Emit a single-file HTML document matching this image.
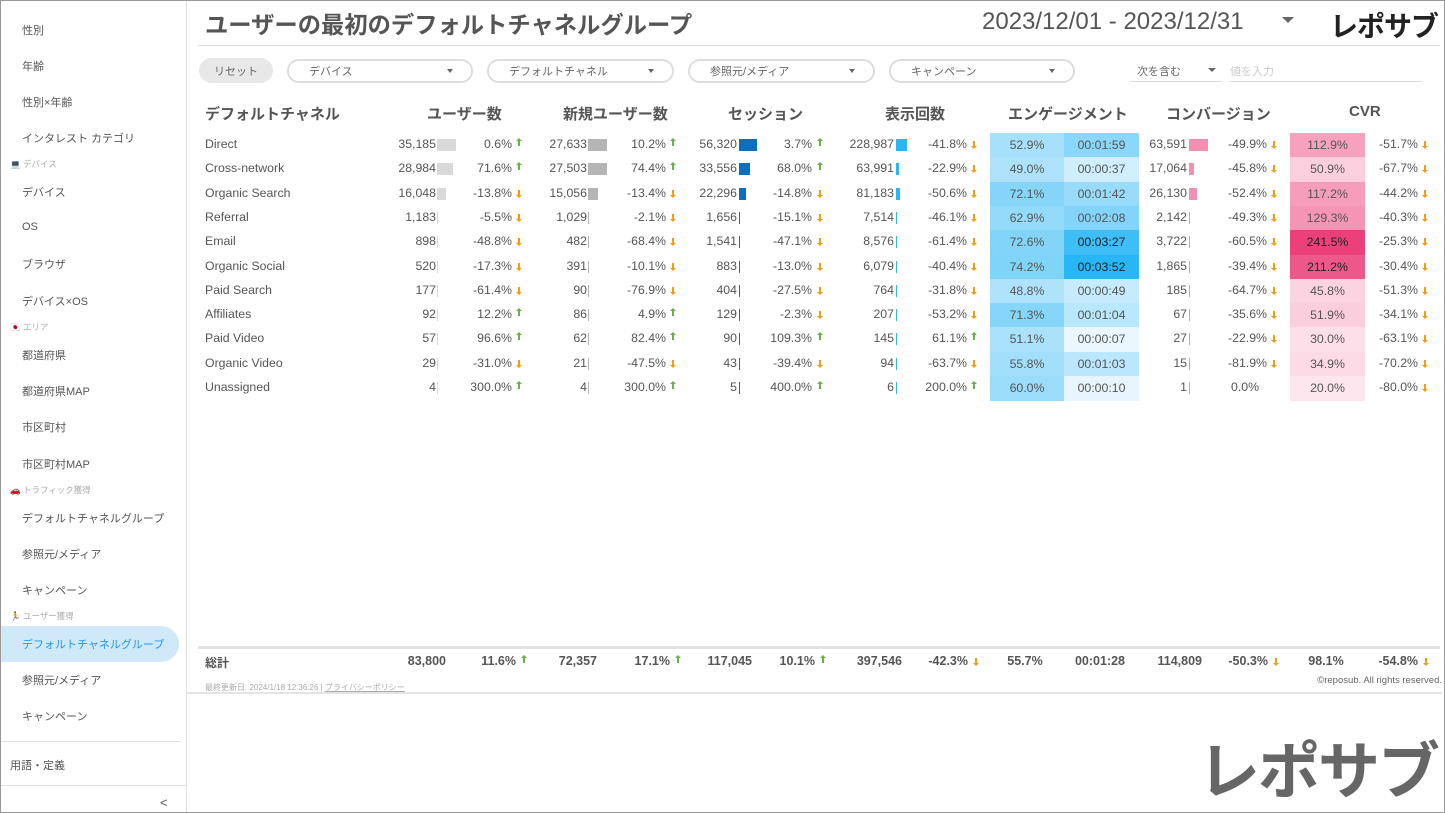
<!DOCTYPE html><html><head><meta charset="utf-8"><style>
*{margin:0;padding:0;box-sizing:border-box}
body{width:1445px;height:813px;overflow:hidden;background:#fff;font-family:"Liberation Sans","Noto Sans CJK JP",sans-serif;color:#555;position:relative}
.a{position:absolute;white-space:nowrap}
.sb{font-size:11px;color:#555;left:22px}
.sec{font-size:8.5px;color:#aaa;left:10px}
.r{text-align:right}
.c{text-align:center}
.t{font-size:12.3px;color:#555}
.h{font-size:15px;font-weight:bold;color:#555}
.dd{position:absolute;top:59px;height:24px;border:2px solid #ddd;border-radius:12px;font-size:11px;color:#666;padding:2px 0 0 20px}
.dd:after{content:"";position:absolute;right:18px;top:8px;border:3px solid transparent;border-top:4px solid #666}
</style></head><body>
<div class="a" style="left:0;top:0;width:1445px;height:813px;border:1px solid #999;z-index:9;pointer-events:none"></div>
<div class="a" style="left:186px;top:0;width:1px;height:813px;background:#e0e0e0"></div>
<div class="a sb" style="top:22px">性別</div>
<div class="a sb" style="top:58px">年齢</div>
<div class="a sb" style="top:94px">性別×年齢</div>
<div class="a sb" style="top:130px">インタレスト カテゴリ</div>
<div class="a sec" style="top:158px">💻 デバイス</div>
<div class="a sb" style="top:184px">デバイス</div>
<div class="a sb" style="top:221px">OS</div>
<div class="a sb" style="top:256px">ブラウザ</div>
<div class="a sb" style="top:293px">デバイス×OS</div>
<div class="a sec" style="top:321px">🇯🇵 エリア</div>
<div class="a sb" style="top:347px">都道府県</div>
<div class="a sb" style="top:383px">都道府県MAP</div>
<div class="a sb" style="top:419px">市区町村</div>
<div class="a sb" style="top:456px">市区町村MAP</div>
<div class="a sec" style="top:484px">🚗 トラフィック獲得</div>
<div class="a sb" style="top:510px">デフォルトチャネルグループ</div>
<div class="a sb" style="top:546px">参照元/メディア</div>
<div class="a sb" style="top:582px">キャンペーン</div>
<div class="a sec" style="top:610px">🏃 ユーザー獲得</div>
<div class="a" style="left:0;top:626px;width:179px;height:36px;background:#cfe9f8;border-radius:0 18px 18px 0"></div>
<div class="a sb" style="top:636px;color:#2196f3">デフォルトチャネルグループ</div>
<div class="a sb" style="top:672px">参照元/メディア</div>
<div class="a sb" style="top:708px">キャンペーン</div>
<div class="a" style="left:0;top:741px;width:180px;height:1px;background:#e0e0e0"></div>
<div class="a sb" style="top:757px;left:10px">用語・定義</div>
<div class="a" style="left:0;top:785px;width:186px;height:1px;background:#e0e0e0"></div>
<div class="a" style="left:160px;top:795px;font-size:13px;color:#555">&lt;</div>

<div class="a" style="left:205px;top:6px;font-size:23.3px;font-weight:bold;color:#555">ユーザーの最初のデフォルトチャネルグループ</div>
<div class="a" style="left:982px;top:8px;font-size:24px;color:#555">2023/12/01 - 2023/12/31</div>
<div class="a" style="left:1282px;top:17px;border:6px solid transparent;border-top:6px solid #666"></div>
<div class="a" style="left:1330px;top:5px;font-size:28px;font-weight:bold;color:#222;letter-spacing:-1px">レポサブ</div>
<div class="a" style="left:198px;top:45px;width:1242px;height:1px;background:#ddd"></div>

<div class="a" style="left:199px;top:58px;width:74px;height:25px;background:#e8e8e8;border-radius:13px;font-size:11px;color:#666;text-align:center;padding-top:5px">リセット</div>
<div class="dd" style="left:287px;width:186px">デバイス</div>
<div class="dd" style="left:487px;width:187px">デフォルトチャネル</div>
<div class="dd" style="left:688px;width:187px">参照元/メディア</div>
<div class="dd" style="left:889px;width:186px">キャンペーン</div>
<div class="a" style="left:1137px;top:63px;font-size:11px;color:#666">次を含む</div>
<div class="a" style="left:1208px;top:68px;border:4px solid transparent;border-top:4px solid #666"></div>
<div class="a" style="left:1130px;top:81px;width:92px;height:1px;background:#ddd"></div>
<div class="a" style="left:1230px;top:63px;font-size:11px;color:#ccc">値を入力</div>
<div class="a" style="left:1229px;top:81px;width:193px;height:1px;background:#ddd"></div>

<div class="a h" style="left:205px;top:103px">デフォルトチャネル</div>
<div class="a h" style="left:427px;top:103px">ユーザー数</div>
<div class="a h" style="left:563px;top:103px">新規ユーザー数</div>
<div class="a h" style="left:728px;top:103px">セッション</div>
<div class="a h" style="left:885px;top:103px">表示回数</div>
<div class="a h" style="left:1008px;top:103px">エンゲージメント</div>
<div class="a h" style="left:1166px;top:103px">コンバージョン</div>
<div class="a h" style="left:1349px;top:103px">CVR</div>

<div id="tb"></div>

<div class="a" style="left:198px;top:646px;width:1242px;height:3px;background:#e4e4e4"></div>
<div class="a" style="left:205px;top:654px;font-size:12px;font-weight:bold;color:#555">総計</div>
<div id="tot"></div>
<div class="a" style="left:205px;top:682px;font-size:8px;color:#aaa">最終更新日: 2024/1/18 12:36:26 | <u>プライバシーポリシー</u></div>
<div class="a" style="right:3px;top:675px;font-size:9.5px;color:#666">©reposub. All rights reserved.</div>
<div class="a" style="left:186px;top:692px;width:1256px;height:2px;background:#e4e4e4"></div>
<div class="a" style="left:1198px;top:737px;font-size:62px;line-height:72px;font-weight:bold;color:#666;letter-spacing:-2px">レポサブ</div>

<script>
var D=[
["Direct",35185,"0.6%",1,27633,"10.2%",1,56320,"3.7%",1,228987,"-41.8%",0,52.9,"00:01:59",63591,"-49.9%",0,112.9,"-51.7%",0],
["Cross-network",28984,"71.6%",1,27503,"74.4%",1,33556,"68.0%",1,63991,"-22.9%",0,49.0,"00:00:37",17064,"-45.8%",0,50.9,"-67.7%",0],
["Organic Search",16048,"-13.8%",0,15056,"-13.4%",0,22296,"-14.8%",0,81183,"-50.6%",0,72.1,"00:01:42",26130,"-52.4%",0,117.2,"-44.2%",0],
["Referral",1183,"-5.5%",0,1029,"-2.1%",0,1656,"-15.1%",0,7514,"-46.1%",0,62.9,"00:02:08",2142,"-49.3%",0,129.3,"-40.3%",0],
["Email",898,"-48.8%",0,482,"-68.4%",0,1541,"-47.1%",0,8576,"-61.4%",0,72.6,"00:03:27",3722,"-60.5%",0,241.5,"-25.3%",0],
["Organic Social",520,"-17.3%",0,391,"-10.1%",0,883,"-13.0%",0,6079,"-40.4%",0,74.2,"00:03:52",1865,"-39.4%",0,211.2,"-30.4%",0],
["Paid Search",177,"-61.4%",0,90,"-76.9%",0,404,"-27.5%",0,764,"-31.8%",0,48.8,"00:00:49",185,"-64.7%",0,45.8,"-51.3%",0],
["Affiliates",92,"12.2%",1,86,"4.9%",1,129,"-2.3%",0,207,"-53.2%",0,71.3,"00:01:04",67,"-35.6%",0,51.9,"-34.1%",0],
["Paid Video",57,"96.6%",1,62,"82.4%",1,90,"109.3%",1,145,"61.1%",1,51.1,"00:00:07",27,"-22.9%",0,30.0,"-63.1%",0],
["Organic Video",29,"-31.0%",0,21,"-47.5%",0,43,"-39.4%",0,94,"-63.7%",0,55.8,"00:01:03",15,"-81.9%",0,34.9,"-70.2%",0],
["Unassigned",4,"300.0%",1,4,"300.0%",1,5,"400.0%",1,6,"200.0%",1,60.0,"00:00:10",1,"0.0%",2,20.0,"-80.0%",0]];
function f(n){return n.toLocaleString("en-US")}
function mix(a,b,t){t=Math.max(0,Math.min(1,t));var r=[];for(var i=0;i<3;i++)r.push(Math.round(a[i]+(b[i]-a[i])*t));return "rgb("+r+")"}
var h="";
function tx(x,y,s,cls,w){return '<div class="a t '+(cls||'r')+'" style="left:'+(x-(w||100))+'px;top:'+y+'px;width:'+(w||100)+'px">'+s+'</div>'}
function ar(x,y,u){if(u==2)return"";var c=u?'#6ab04c':'#f39c12';
 return '<div class="a" style="left:'+(x+1)+'px;top:'+(y+4)+'px;width:2px;height:5px;background:'+c+'"></div><div class="a" style="left:'+(x-1)+'px;top:'+(u?y+1:y+9)+'px;border:3px solid transparent;'+(u?'border-bottom:3px solid '+c+';border-top:0':'border-top:3px solid '+c+';border-bottom:0')+'"></div>'}
function bar(x,y,w,c){w=Math.max(1,w);return '<div class="a" style="left:'+x+'px;top:'+(y+2)+'px;width:'+w+'px;height:12px;background:'+c+'"></div>'}
D.forEach(function(d,i){
 var top=133+i*24.3,y=top+4;
 h+='<div class="a t" style="left:205px;top:'+y+'px">'+d[0]+'</div>';
 h+=tx(436,y,f(d[1]))+bar(437,y,d[1]/35185*19,'#d9d9d9')+tx(512,y,d[2])+ar(517,y,d[3]);
 h+=tx(587,y,f(d[4]))+bar(588,y,d[4]/27633*19,'#b5b5b5')+tx(666,y,d[5])+ar(671,y,d[6]);
 h+=tx(737,y,f(d[7]))+bar(739,y,d[7]/56320*18,'#0a6fbf')+tx(812,y,d[8])+ar(818,y,d[9]);
 h+=tx(894,y,f(d[10]))+bar(896,y,d[10]/228987*11,'#29b6f6')+tx(967,y,d[11])+ar(972,y,d[12]);
 var ep=mix([176,227,251],[128,212,248],(d[13]-48)/26);
 var tp=d[14].split(":"),sec=+tp[1]*60+ +tp[2];
 var tc=mix([240,249,254],[41,182,246],sec/232);
 h+='<div class="a t c" style="left:990px;top:'+top+'px;width:74px;height:24.5px;line-height:24px;background:'+ep+'">'+d[13].toFixed(1)+'%</div>';
 h+='<div class="a t c" style="left:1064px;top:'+top+'px;width:75px;height:24.5px;line-height:24px;background:'+tc+(sec>190?';color:#222':'')+'">'+d[14]+'</div>';
 h+=tx(1187,y,f(d[15]))+bar(1189,y,d[15]/63591*19,'#f48fb1')+(d[17]==2?tx(1290,y,d[16],'c',90):tx(1267,y,d[16]))+ar(1272,y,d[17]);
 var cc=mix([253,230,238],[236,64,122],(d[18]-20)/222);
 h+='<div class="a t c" style="left:1290px;top:'+top+'px;width:75px;height:24.5px;line-height:24px;background:'+cc+(d[18]>200?';color:#222':'')+'">'+d[18].toFixed(1)+'%</div>';
 h+=tx(1418,y,d[19])+ar(1423,y,d[20]);
});
document.getElementById("tb").innerHTML=h;
var T=[[446,"83,800"],[516,"11.6%",1],[597,"72,357"],[670,"17.1%",1],[752,"117,045"],[815,"10.1%",1],[902,"397,546"],[968,"-42.3%",0],[1062,"55.7%",-1,1],[1137,"00:01:28",-1,1],[1202,"114,809"],[1268,"-50.3%",0],[1363,"98.1%",-1,1],[1418,"-54.8%",0]];
var g="";
T.forEach(function(t){
 var cen=t[3];
 g+='<div class="a" style="left:'+(t[0]-(cen?74:100))+'px;top:654px;width:'+(cen?74:100)+'px;text-align:'+(cen?'center':'right')+';font-size:12.5px;font-weight:bold;color:#555">'+t[1]+'</div>';
 if(t[2]===1||t[2]===0)g+=ar(t[0]+6,654,t[2]);
});
document.getElementById("tot").innerHTML=g;
</script>
</body></html>
